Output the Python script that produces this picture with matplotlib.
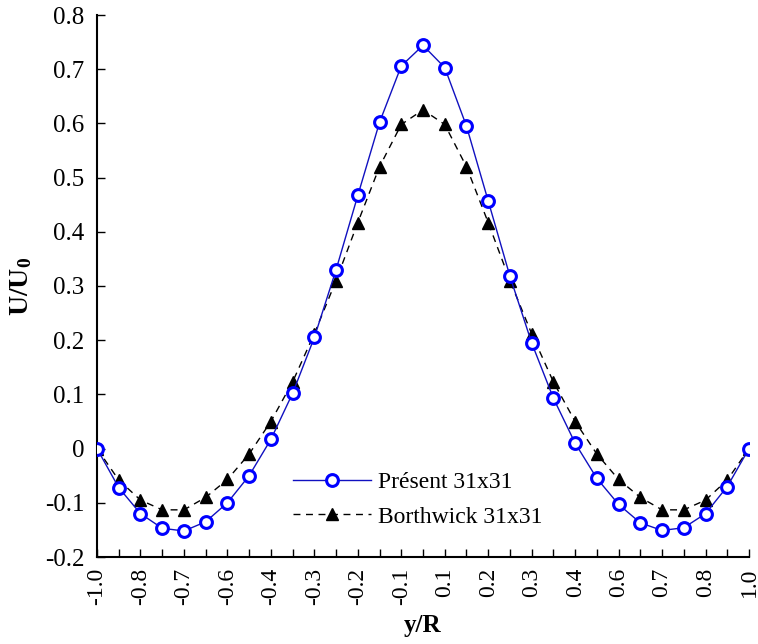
import matplotlib
matplotlib.use("Agg")
import matplotlib.pyplot as plt

# ── data (31 grid points across y/R)
tick_labels = ["-1.0", "-0.8", "-0.7", "-0.6", "-0.4", "-0.3", "-0.2", "-0.1",
               "0.1", "0.2", "0.3", "0.4", "0.6", "0.7", "0.8", "1.0"]

present = [0.0, -0.072, -0.120, -0.147, -0.152, -0.135, -0.100, -0.050,
           0.017, 0.102, 0.205, 0.330, 0.467, 0.602, 0.706, 0.744,
           0.703, 0.595, 0.457, 0.318, 0.195, 0.093, 0.010, -0.055,
           -0.103, -0.137, -0.151, -0.146, -0.120, -0.070, 0.0]

borthwick = [0.0, -0.058, -0.095, -0.113, -0.113, -0.090, -0.057, -0.010,
             0.050, 0.123, 0.212, 0.310, 0.417, 0.520, 0.598, 0.625,
             0.598, 0.520, 0.417, 0.310, 0.212, 0.123, 0.050, -0.010,
             -0.057, -0.090, -0.113, -0.113, -0.095, -0.058, 0.0]

plt.rcParams["font.family"] = ["Liberation Serif", "DejaVu Serif"]
plt.rcParams["mathtext.fontset"] = "custom"
plt.rcParams["mathtext.rm"] = "Liberation Serif"
plt.rcParams["mathtext.bf"] = "Liberation Serif:bold"

fig = plt.figure(figsize=(7.58, 6.44), dpi=100)
ax = fig.add_axes([97 / 758, 1 - 557 / 644, (749 - 97) / 758, (557 - 15) / 644])

idx = list(range(len(present)))
ax.plot(idx, present, color="#1010C0", lw=1.0, marker="o", ms=8.5,
        mfc="white", mec="#0000FF", mew=2.2, label="Présent 31x31", zorder=3)
ax.plot(idx, borthwick, color="black", lw=1.0, ls=(0, (5, 4)), marker="^",
        ms=9, mfc="black", mec="black", label="Borthwick 31x31", zorder=2)

ax.set_xlim(0, len(present) - 1)
ax.set_ylim(-0.2, 0.8)
ax.set_xticks(idx, minor=True)
ax.set_xticks(idx[::2])
ax.set_xticklabels(tick_labels, rotation=90, fontsize=17)
ax.set_yticks([-0.2, -0.1, 0, 0.1, 0.2, 0.3, 0.4, 0.5, 0.6, 0.7, 0.8])
ax.set_yticklabels(["-0.2", "-0.1", "0", "0.1", "0.2", "0.3", "0.4",
                    "0.5", "0.6", "0.7", "0.8"], fontsize=18)
ax.tick_params(axis="both", which="both", direction="in", length=6, width=1)
ax.tick_params(axis="x", pad=8)
ax.tick_params(axis="y", pad=9)

for s in ("top", "right"):
    ax.spines[s].set_visible(False)
for s in ("left", "bottom"):
    ax.spines[s].set_linewidth(1.5)

ax.set_xlabel("y/R", fontsize=18, fontweight="bold", labelpad=6)
ax.set_ylabel(r"$\mathbf{U/U_0}$", fontsize=20, labelpad=8)

ax.legend(loc="upper left", bbox_to_anchor=(0.268, 0.197), frameon=False,
          fontsize=17, handlelength=3.3, labelspacing=0.55, handletextpad=0.3)

fig.savefig("out.png", dpi=100)
